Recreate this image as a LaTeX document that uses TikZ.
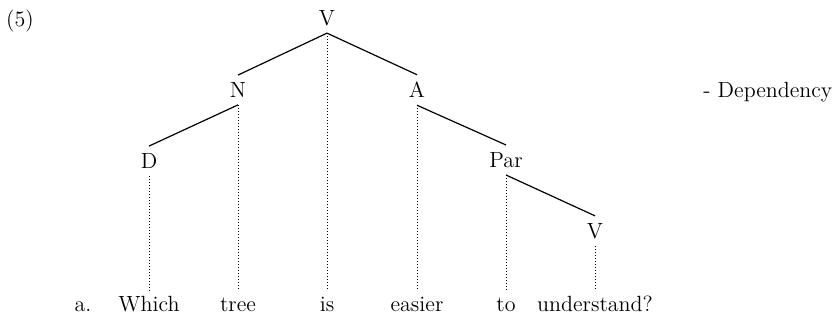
\documentclass[tikz,border=0pt]{standalone}
\usetikzlibrary{positioning}
\begin{document}
\begin{tikzpicture}[x=0.5pt, y=-0.5pt,
  lbl/.style={inner xsep=1pt, inner ysep=3.5pt, font=\fontsize{11}{13}\selectfont},
  wd/.style={anchor=base, inner xsep=1pt, inner ysep=3pt, text height=7.5pt, text depth=2pt, font=\fontsize{11}{13}\selectfont},
  ln/.style={line width=0.6pt},
  dl/.style={line width=0.5pt, dash pattern=on 0.5pt off 1pt}
]
  \useasboundingbox (0,0) rectangle (839,330);
  % example number and legend
  \node[lbl] (num) at (20,21) {(5)};
  \node[lbl, anchor=base west] (legend) at (701,98) {- Dependency};
  % categories
  \node[lbl] (vtop) at (327,18) {V};
  \node[lbl] (nn) at (238,90) {N};
  \node[lbl] (an) at (417,90) {A};
  \node[lbl] (dd) at (149,161) {D};
  \node[lbl] (par) at (506,160) {Par};
  \node[lbl] (vlow) at (595,231) {V};
  % words
  \node[wd] (wa) at (83,312) {a.};
  \node[wd] (which) at (149,312) {Which};
  \node[wd] (tree) at (238,312) {tree};
  \node[wd] (is) at (327,312) {is};
  \node[wd] (easier) at (417,312) {easier};
  \node[wd] (to) at (506,312) {to};
  \node[wd] (und) at (595,312) {understand?};
  % dependencies
  \draw[ln] (vtop.south) -- (nn.north);
  \draw[ln] (vtop.south) -- (an.north);
  \draw[ln] (nn.south) -- (dd.north);
  \draw[ln] (an.south) -- (par.north);
  \draw[ln] (par.south) -- (vlow.north);
  % projection lines
  \foreach \c/\w in {dd/which, nn/tree, vtop/is, an/easier, par/to, vlow/und}
    \draw[dl] (\c.south) -- (\c.south |- \w.north);
\end{tikzpicture}
\end{document}
